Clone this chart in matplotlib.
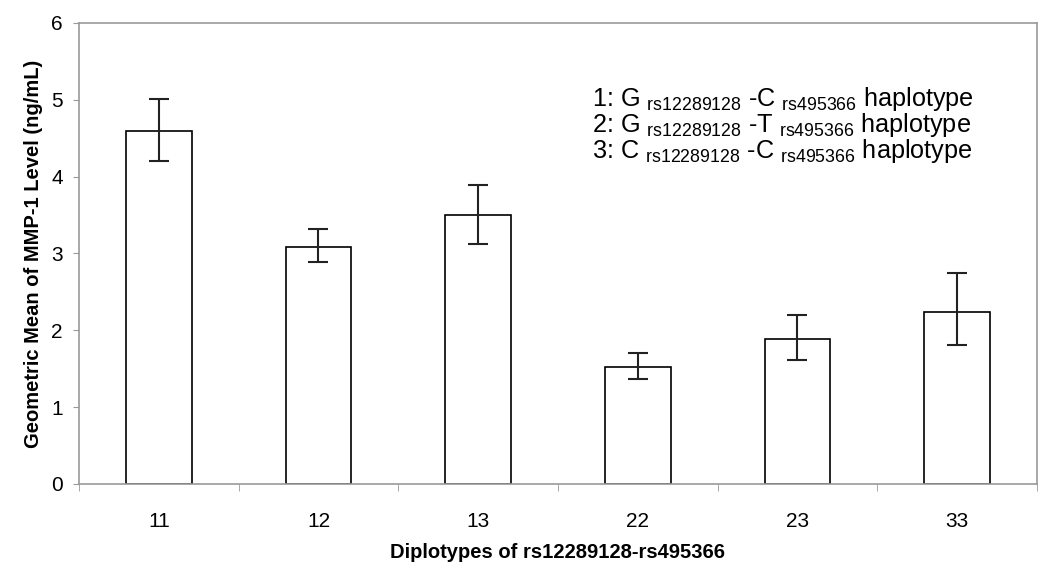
import numpy as np
import matplotlib
matplotlib.use("Agg")
import matplotlib.pyplot as plt

plt.rcParams["font.family"] = ["Liberation Sans", "DejaVu Sans"]
plt.rcParams["mathtext.fontset"] = "custom"
plt.rcParams["mathtext.rm"] = "Liberation Sans"
plt.rcParams["mathtext.it"] = "Liberation Sans"

diplotypes = ["11", "12", "13", "22", "23", "33"]
geo_mean = [4.60, 3.09, 3.50, 1.52, 1.89, 2.24]
ci_low = [4.20, 2.89, 3.13, 1.36, 1.61, 1.81]
ci_high = [5.01, 3.32, 3.89, 1.71, 2.20, 2.74]
legend_lines = [
    r"1: G $_{\mathrm{rs12289128}}$ -C $_{\mathrm{rs495366}}$ haplotype",
    r"2: G $_{\mathrm{rs12289128}}$ -T $_{\mathrm{rs495366}}$ haplotype",
    r"3: C $_{\mathrm{rs12289128}}$ -C $_{\mathrm{rs495366}}$ haplotype",
]

x = np.arange(len(diplotypes))
yerr = [np.subtract(geo_mean, ci_low), np.subtract(ci_high, geo_mean)]

fig = plt.figure(figsize=(10.5, 5.75), dpi=100)
ax = fig.add_axes([0.0752, 0.1583, 0.9124, 0.8017])
ax.bar(x, geo_mean, 0.41, color="white", edgecolor="black", linewidth=1.2)
ax.errorbar(x, geo_mean, yerr=yerr, fmt="none", ecolor="#222222",
            elinewidth=1.5, capsize=7, capthick=1.5)

ax.set_xlim(-0.5, len(x) - 0.5)
ax.set_ylim(0, 6)
ax.set_yticks(range(0, 7))
ax.set_xticks(x)
ax.set_xticklabels(diplotypes)
ax.set_xticks(np.arange(-0.5, len(x)), minor=True)
ax.tick_params(axis="x", which="major", length=0, labelsize=15, pad=20)
ax.tick_params(axis="x", which="minor", length=5, color="#999999")
ax.tick_params(axis="y", length=4.5, color="#999999", labelsize=15, pad=7)
for s in ax.spines.values():
    s.set_color("#999999")
    s.set_linewidth(1.2)

ax.set_xlabel("Diplotypes of rs12289128-rs495366", fontsize=14.5, fontweight="bold", labelpad=9)
ax.set_ylabel("Geometric Mean of MMP-1 Level (ng/mL)", fontsize=14.5, fontweight="bold", labelpad=6)

for i, line in enumerate(legend_lines):
    ax.text(0.535, 0.835 - i * 0.056, line, transform=ax.transAxes, fontsize=18.2, va="center")

fig.savefig("out.png", dpi=100)
